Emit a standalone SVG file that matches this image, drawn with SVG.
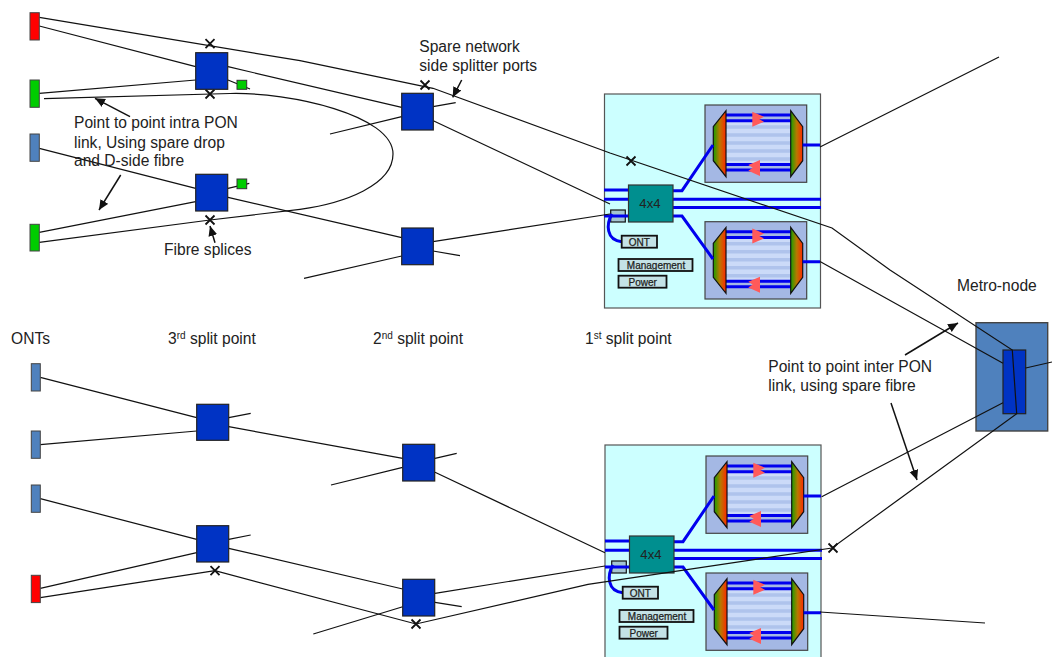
<svg xmlns="http://www.w3.org/2000/svg" width="1052" height="657" viewBox="0 0 1052 657">
<style>
text{font-family:"Liberation Sans",Arial,sans-serif;font-size:15.6px;fill:#222}
.c{fill:none;stroke:#111;stroke-width:1.2}
.a{fill:none;stroke:#111;stroke-width:1.5;marker-end:url(#ah)}
.x{fill:none;stroke:#111;stroke-width:1.8}
.f{fill:none;stroke:#0000ee;stroke-width:3}
.s{fill:#0033c4;stroke:#222;stroke-width:1.2}
.gs{fill:#00cc00;stroke:#333;stroke-width:1}
.on{stroke:#444;stroke-width:1}
.pon{fill:#ccffff;stroke:#555;stroke-width:1.2}
.mux{fill:#008f8f;stroke:#333;stroke-width:1.2}
.lb{fill:#c4e2e6;stroke:#111;stroke-width:1.8}
.sm{font-size:10px;text-anchor:middle;stroke:#222;stroke-width:.25}
.sw{font-size:13.2px;text-anchor:middle}
.up{font-size:10px}
</style>
<defs>
<marker id="ah" markerWidth="11" markerHeight="10" refX="10" refY="4.500" orient="auto" markerUnits="userSpaceOnUse"><path d="M0,0L10,4.500L0,9z" fill="#111"/></marker>
<linearGradient id="gr"><stop offset="0" stop-color="#18a000"/><stop offset=".5" stop-color="#b87800"/><stop offset="1" stop-color="#ff2800"/></linearGradient>
<g id="amp">
<rect x="0" y="0" width="101.7" height="77.3" fill="#a4b8e4" stroke="#444" stroke-width="1.2"/>
<rect x="21" y="16" width="65" height="43" fill="#cbdaf8"/>
<path d="M21,22h65M21,30h65M21,38h65M21,46h65M21,54h65" stroke="#afc3ec" stroke-width="3.5"/>
<path d="M21,10H86M21,15.7H86M21,59.500H86M21,65H86" stroke="#0000ee" stroke-width="3"/>
<path d="M47.300,6.700L59,11.700L54.300,14.300L59,16.700L47.300,21.700z" fill="#ff5a5a"/>
<path d="M55,55L43.300,60L47.700,62.700L43.300,65.700L55,71z" fill="#ff5a5a"/>
<path d="M8.300,21.700L21,5.700V71.700L8.300,55.700z" fill="url(#gr)" stroke="#111" stroke-width="1.2"/>
<path d="M85.700,5.700L97.700,21.700V55.700L85.700,71.700z" fill="url(#gr)" stroke="#111" stroke-width="1.2"/>
</g>
<g id="wires">
<path class="f" d="M604,190H629M604,199.300H629M604,216H629M673,190.700H682L713,145M673,199.300H821M673,207.500H821M673,216H682L713,259M802.700,145H820M802.700,261.700H820"/>
<path class="f" d="M612,214C606,224 606,240 621.700,241.700"/>
</g>
</defs>

<g id="olt-top">
<rect class="pon" x="604.500" y="94" width="216" height="214"/>
<use href="#amp" x="705" y="105"/>
<use href="#amp" x="705" y="221.700"/>
<rect x="610.700" y="210" width="14.600" height="12" fill="#a4c4d0" stroke="#111" stroke-width="1.2"/>
<use href="#wires"/>
<rect class="mux" x="628.500" y="185" width="44.500" height="37"/>
<text class="sw" x="650" y="208">4x4</text>
<rect class="lb" x="621.700" y="235.700" width="35.300" height="12"/><text class="sm" x="639.300" y="246">ONT</text>
<rect class="lb" x="618.500" y="259" width="74" height="12"/><text class="sm" x="656" y="269">Management</text>
<rect class="lb" x="618.500" y="275.700" width="48" height="12"/><text class="sm" x="642.700" y="286">Power</text>
</g>
<g id="olt-bottom">
<rect class="pon" x="605" y="445" width="216" height="214"/>
<use href="#amp" x="706" y="456"/>
<use href="#amp" x="706" y="573"/>
<rect x="611.700" y="561" width="14.600" height="12" fill="#a4c4d0" stroke="#111" stroke-width="1.2"/>
<use href="#wires" x="1" y="351"/>
<rect class="mux" x="629.500" y="536" width="44.500" height="37"/>
<text class="sw" x="651" y="559">4x4</text>
<rect class="lb" x="622.700" y="586.700" width="35.300" height="12"/><text class="sm" x="640.300" y="597">ONT</text>
<rect class="lb" x="619.500" y="610" width="74" height="12"/><text class="sm" x="657" y="620">Management</text>
<rect class="lb" x="619.500" y="626.700" width="48" height="12"/><text class="sm" x="643.700" y="637">Power</text>
</g>
<g id="metro-node">
<rect x="976" y="322.700" width="71.700" height="108.300" fill="#4f81bd" stroke="#444" stroke-width="1.4"/>
<rect class="s" x="1003" y="350" width="22.700" height="63.700"/>
</g>

<g id="connectors">
<path class="c" d="M39.300,17.300L300,60.700L433,88.300L610,153L832,228L890,270L1012.300,350L1016.700,413.700L898,500L832,548L588,584.300L416,624L215,570.700L40.300,597.700"/>
<path class="c" d="M39.300,26L195.700,66.700M228,66.700L401.700,107.300M433.300,120.700L610,204"/>
<path class="c" d="M39.300,93.300L195.700,80M228,80L250,89"/>
<path class="c" d="M44,98.700L230,93.500C290,92 393,115 393,154C393,185 345,203 300,209.300L210,220L39.300,242.300"/>
<path class="c" d="M39.300,148.300L195.700,188.300M228,197.300L401.700,237.700M433,241.700L610,214"/>
<path class="c" d="M39.300,232.300L195.700,201.700M228,188.300L249.300,183.300"/>
<path class="c" d="M330,134L401.700,116.700M433,106.700L455.700,102.700M304,278.300L401.700,256M433,251L460,255.700"/>
<path class="c" d="M820,147L999,57M820,261.500L1003,363.300M821.700,496.700L1003,402.700M820,612L985,623M1025.700,368L1052,362"/>
<path class="c" d="M40.300,377.300L196.700,417.700M40.300,444.700L196.700,431M228.700,417.700L250.700,413.300M228.700,426.700L402.700,458.300M331,485L402.700,467.300M435,458.300L456.700,453.300M435,472.300L605,552.700"/>
<path class="c" d="M40.300,498.700L196.700,539.300M40.300,588.300L196.700,552.700M228.700,539.300L250.700,535M228.700,548.300L402.700,589M313.300,634L402.700,606.700M435,602.300L461.700,606.700M435,593.300L605,566"/>
<path class="a" d="M130,116.700L95,98.300"/>
<path class="a" d="M120.700,175L99,210"/>
<path class="a" d="M215,242.700L210,226"/>
<path class="a" d="M461.700,80L452.700,97.300"/>
<path class="a" d="M905,355L958,323"/>
<path class="a" d="M891,403L917,480"/>
<path class="x" d="M205.500,39.200l9,9m0,-9l-9,9M205.500,89.500l9,9m0,-9l-9,9M205.500,215.500l9,9m0,-9l-9,9M420.500,80.500l9,9m0,-9l-9,9M626.500,156.500l9,9m0,-9l-9,9M210.500,566.200l9,9m0,-9l-9,9M411.500,619.500l9,9m0,-9l-9,9M828.500,543.500l9,9m0,-9l-9,9"/>
</g>

<g id="ont-1"><rect class="on" x="30" y="12.700" width="9.300" height="27.300" fill="#ff0000"/></g>
<g id="ont-2"><rect class="on" x="30" y="80" width="9.300" height="27.300" fill="#00cc00"/></g>
<g id="ont-3"><rect class="on" x="30" y="134" width="9.300" height="27.300" fill="#4f81bd"/></g>
<g id="ont-4"><rect class="on" x="30" y="224.300" width="9.300" height="26.700" fill="#00cc00"/></g>
<g id="ont-5"><rect class="on" x="31.300" y="363.700" width="9" height="27.300" fill="#4f81bd"/></g>
<g id="ont-6"><rect class="on" x="31.300" y="431" width="9" height="27.300" fill="#4f81bd"/></g>
<g id="ont-7"><rect class="on" x="31.300" y="485" width="9" height="27.300" fill="#4f81bd"/></g>
<g id="ont-8"><rect class="on" x="31.300" y="575.300" width="9" height="27.300" fill="#ff0000"/></g>

<g id="s3a"><rect class="s" x="195.700" y="52.700" width="32" height="36.600"/></g>
<g id="s3b"><rect class="s" x="195.700" y="174.300" width="32" height="36.700"/></g>
<g id="s3c"><rect class="s" x="196.700" y="404.300" width="32" height="36"/></g>
<g id="s3d"><rect class="s" x="196.700" y="525.700" width="32" height="36.300"/></g>
<g id="s2a"><rect class="s" x="401.700" y="93.300" width="31.600" height="36.700"/></g>
<g id="s2b"><rect class="s" x="401.700" y="228" width="31.600" height="36.700"/></g>
<g id="s2c"><rect class="s" x="402.700" y="444.300" width="32" height="36.700"/></g>
<g id="s2d"><rect class="s" x="402.700" y="579.300" width="32" height="36.700"/></g>
<g id="spare-1"><rect class="gs" x="237" y="80.300" width="9.700" height="9"/></g>
<g id="spare-2"><rect class="gs" x="237" y="179" width="9.700" height="9.700"/></g>

<g id="labels">
<text x="419.300" y="52">Spare network</text>
<text x="419.300" y="71">side splitter ports</text>
<text x="74" y="128">Point to point intra PON</text>
<text x="74" y="148">link, Using spare drop</text>
<text x="74" y="166">and D-side fibre</text>
<text x="164" y="255">Fibre splices</text>
<text x="11" y="344">ONTs</text>
<text x="168" y="344">3<tspan class="up" dy="-5">rd</tspan><tspan dy="5"> split point</tspan></text>
<text x="373" y="344">2<tspan class="up" dy="-5">nd</tspan><tspan dy="5"> split point</tspan></text>
<text x="585" y="344">1<tspan class="up" dy="-5">st</tspan><tspan dy="5"> split point</tspan></text>
<text x="957" y="290.700">Metro-node</text>
<text x="768.300" y="371.700">Point to point inter PON</text>
<text x="768.300" y="390.700">link, using spare fibre</text>
</g>
</svg>
